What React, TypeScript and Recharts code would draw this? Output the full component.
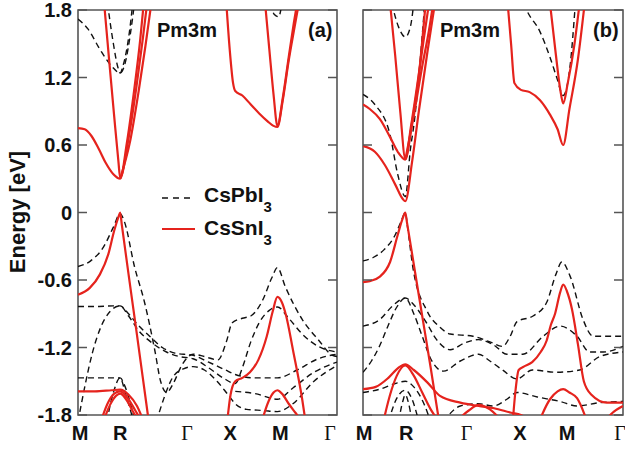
import React from 'react'
import { LineChart, Line, XAxis, YAxis, ReferenceArea } from 'recharts'

type Band = [number, number][]

// high-symmetry path M-R-G-X-M-G (k measured along the path)
const kTicks = [0, 0.5, 1.366, 1.866, 2.366, 3.073]
const kLabels = ['M', 'R', 'Γ', 'X', 'M', 'Γ']
const eTicks = [-1.8, -1.2, -0.6, 0, 0.6, 1.2, 1.8]

// panel (a) CsSnI3
const aSn: Band[] = [
  [[0, 0.75], [0.08, 0.74], [0.16, 0.68], [0.25, 0.56], [0.33, 0.44], [0.42, 0.34], [0.5, 0.3], [0.58, 0.62], [0.66, 1.05], [0.74, 1.55], [0.78, 1.86]],
  [[0.31, 1.86], [0.37, 1.35], [0.43, 0.85], [0.48, 0.45], [0.5, 0.31], [0.6, 0.66], [0.69, 1.1], [0.77, 1.55], [0.82, 1.86]],
  [[0.5, 0.3], [0.62, 0.64], [0.72, 1.08], [0.8, 1.48], [0.87, 1.86]],
  [[1.76, 1.86], [1.8, 1.45], [1.84, 1.15], [1.866, 1.08], [1.95, 1.04], [2.05, 0.96], [2.15, 0.88], [2.25, 0.81], [2.32, 0.77], [2.366, 0.76], [2.43, 1.0], [2.5, 1.35], [2.57, 1.65], [2.62, 1.86]],
  [[2.22, 1.86], [2.27, 1.45], [2.32, 1.05], [2.366, 0.77], [2.43, 1.02], [2.5, 1.38], [2.56, 1.68], [2.6, 1.86]],
  [[0, -0.73], [0.14, -0.67], [0.26, -0.55], [0.36, -0.37], [0.43, -0.16], [0.48, -0.04], [0.5, 0], [0.52, -0.11], [0.6, -0.55], [0.7, -1.09], [0.8, -1.64], [0.84, -1.86]],
  [[0, -1.59], [0.2, -1.59], [0.4, -1.58], [0.5, -1.575], [0.6, -1.62], [0.7, -1.72], [0.78, -1.86]],
  [[0.27, -1.86], [0.35, -1.7], [0.43, -1.61], [0.5, -1.59], [0.58, -1.64], [0.68, -1.76], [0.76, -1.86]],
  [[0.3, -1.86], [0.38, -1.71], [0.45, -1.63], [0.5, -1.61], [0.57, -1.66], [0.66, -1.78], [0.73, -1.86]],
  [[1.77, -1.86], [1.81, -1.62], [1.866, -1.5], [1.95, -1.47], [2.04, -1.42], [2.14, -1.31], [2.24, -1.1], [2.31, -0.88], [2.366, -0.75], [2.42, -0.8], [2.47, -0.92], [2.55, -1.22], [2.66, -1.66], [2.7, -1.86]],
  [[2.18, -1.86], [2.26, -1.68], [2.32, -1.6], [2.366, -1.58], [2.42, -1.61], [2.5, -1.7], [2.58, -1.78], [2.66, -1.86]],
]

// panel (a) CsPbI3
const aPb: Band[] = [
  [[0, 1.72], [0.12, 1.63], [0.26, 1.45], [0.4, 1.3], [0.5, 1.24], [0.56, 1.33], [0.62, 1.58], [0.67, 1.86]],
  [[0.35, 1.86], [0.42, 1.5], [0.47, 1.3], [0.5, 1.24], [0.54, 1.32], [0.6, 1.55], [0.65, 1.86]],
  [[2.28, 1.86], [2.33, 1.76], [2.38, 1.74], [2.42, 1.86]],
  [[0, -0.48], [0.15, -0.43], [0.3, -0.31], [0.42, -0.13], [0.5, -0.01], [0.55, -0.08], [0.67, -0.48], [0.79, -0.8], [0.91, -1.22], [0.98, -1.5], [1.05, -1.6], [1.13, -1.52], [1.23, -1.36], [1.366, -1.26], [1.5, -1.28], [1.66, -1.31], [1.76, -1.15], [1.83, -0.98], [1.95, -0.94], [2.05, -0.92], [2.19, -0.78], [2.3, -0.58], [2.366, -0.49], [2.46, -0.66], [2.66, -0.95], [2.85, -1.13], [3.02, -1.27], [3.073, -1.28]],
  [[0, -0.835], [0.25, -0.835], [0.42, -0.83], [0.5, -0.83], [0.6, -0.9], [0.7, -0.99], [0.85, -1.1], [1.0, -1.2], [1.15, -1.25], [1.366, -1.27], [1.55, -1.33], [1.75, -1.4], [1.866, -1.44], [2.1, -1.47], [2.366, -1.47], [2.6, -1.4], [2.85, -1.3], [3.073, -1.26]],
  [[0, -1.86], [0.08, -1.55], [0.17, -1.25], [0.27, -1.02], [0.38, -0.88], [0.5, -0.83], [0.6, -0.92], [0.72, -1.05], [0.88, -1.16], [1.05, -1.24], [1.2, -1.28], [1.366, -1.3], [1.55, -1.38], [1.72, -1.47], [1.866, -1.52], [1.95, -1.38], [2.05, -1.15], [2.15, -0.98], [2.27, -0.87], [2.366, -0.84], [2.5, -0.94], [2.66, -1.08], [2.85, -1.19], [3.073, -1.24]],
  [[0, -1.47], [0.2, -1.47], [0.4, -1.47], [0.5, -1.47], [0.56, -1.55], [0.63, -1.72], [0.68, -1.86]],
  [[0.34, -1.86], [0.42, -1.6], [0.5, -1.47], [0.56, -1.6], [0.66, -1.86]],
  [[0.93, -1.86], [1.02, -1.65], [1.12, -1.47], [1.25, -1.39], [1.366, -1.37], [1.5, -1.4], [1.65, -1.5], [1.78, -1.62], [1.866, -1.7], [2.0, -1.75], [2.2, -1.76], [2.366, -1.77], [2.55, -1.7], [2.8, -1.5], [3.073, -1.36]],
  [[1.866, -1.59], [2.1, -1.61], [2.366, -1.66], [2.55, -1.56], [2.8, -1.42], [3.073, -1.33]],
]

// panel (b) CsSnI3
const bSn: Band[] = [
  [[0, 0.96], [0.08, 0.92], [0.2, 0.83], [0.32, 0.67], [0.41, 0.54], [0.5, 0.47], [0.58, 0.8], [0.66, 1.22], [0.74, 1.86]],
  [[0.32, 1.86], [0.38, 1.4], [0.44, 0.9], [0.5, 0.48], [0.57, 0.78], [0.65, 1.18], [0.72, 1.55], [0.78, 1.86]],
  [[0.5, 0.47], [0.6, 0.86], [0.7, 1.3], [0.78, 1.62], [0.83, 1.86]],
  [[0, 0.59], [0.14, 0.54], [0.26, 0.42], [0.38, 0.25], [0.47, 0.12], [0.5, 0.1], [0.58, 0.45], [0.66, 0.9], [0.76, 1.42], [0.85, 1.86]],
  [[1.71, 1.86], [1.75, 1.5], [1.79, 1.15], [1.866, 1.09], [1.97, 1.07], [2.09, 1.0], [2.21, 0.87], [2.3, 0.74], [2.366, 0.6], [2.44, 0.92], [2.54, 1.36], [2.62, 1.86]],
  [[2.21, 1.86], [2.28, 1.4], [2.33, 1.1], [2.366, 0.97], [2.42, 1.15], [2.5, 1.5], [2.56, 1.86]],
  [[0, -0.62], [0.08, -0.61], [0.2, -0.57], [0.32, -0.44], [0.41, -0.2], [0.47, -0.05], [0.5, 0], [0.52, -0.09], [0.6, -0.46], [0.7, -0.92], [0.8, -1.38], [0.9, -1.86]],
  [[0, -1.57], [0.15, -1.55], [0.3, -1.47], [0.42, -1.38], [0.5, -1.35], [0.6, -1.4], [0.76, -1.51], [0.91, -1.63], [1.15, -1.69], [1.366, -1.72], [1.55, -1.74], [1.75, -1.78], [1.866, -1.8], [2.0, -1.86]],
  [[0.24, -1.86], [0.32, -1.62], [0.4, -1.45], [0.5, -1.36], [0.6, -1.45], [0.7, -1.6], [0.8, -1.75], [0.9, -1.86]],
  [[1.1, -1.86], [1.25, -1.76], [1.366, -1.71], [1.5, -1.75], [1.65, -1.86]],
  [[1.77, -1.86], [1.8, -1.6], [1.84, -1.4], [1.9, -1.37], [2.0, -1.33], [2.1, -1.24], [2.17, -1.14], [2.22, -1.0], [2.27, -0.9], [2.33, -0.71], [2.366, -0.64], [2.41, -0.7], [2.47, -0.86], [2.54, -1.17], [2.61, -1.5], [2.7, -1.62], [2.88, -1.69], [3.073, -1.69]],
  [[2.08, -1.86], [2.21, -1.66], [2.3, -1.59], [2.366, -1.57], [2.44, -1.6], [2.53, -1.65], [2.65, -1.86]],
  [[2.85, -1.86], [2.95, -1.78], [3.073, -1.72]],
]

// panel (b) CsPbI3
const bPb: Band[] = [
  [[0, 1.05], [0.14, 0.96], [0.32, 0.69], [0.41, 0.34], [0.5, 0.14], [0.56, 0.56], [0.61, 0.83], [0.67, 1.3], [0.73, 1.86]],
  [[0.34, 1.86], [0.42, 1.65], [0.5, 1.56], [0.56, 1.65], [0.6, 1.86]],
  [[1.9, 1.86], [1.94, 1.79], [2.09, 1.61], [2.21, 1.38], [2.29, 1.2], [2.366, 1.04], [2.45, 1.32], [2.51, 1.86]],
  [[0, -0.43], [0.12, -0.4], [0.25, -0.33], [0.38, -0.2], [0.45, -0.08], [0.5, 0], [0.53, -0.15], [0.59, -0.49], [0.76, -0.88], [0.91, -1.02], [1.03, -1.08], [1.3, -1.1], [1.5, -1.15], [1.65, -1.19], [1.74, -1.1], [1.82, -0.97], [2.01, -0.92], [2.17, -0.8], [2.28, -0.55], [2.35, -0.44], [2.45, -0.57], [2.6, -0.95], [2.72, -1.1], [2.9, -1.1], [3.073, -1.1]],
  [[0, -1.01], [0.2, -0.95], [0.35, -0.83], [0.5, -0.76], [0.6, -0.82], [0.75, -0.98], [0.87, -1.13], [1.03, -1.22], [1.2, -1.16], [1.366, -1.13], [1.55, -1.18], [1.7, -1.26], [1.89, -1.26], [2.13, -1.1], [2.33, -1.01], [2.53, -1.1], [2.68, -1.24], [2.84, -1.24], [3.073, -1.19]],
  [[0, -1.42], [0.1, -1.32], [0.2, -1.18], [0.3, -1.0], [0.4, -0.84], [0.5, -0.76], [0.6, -0.9], [0.7, -1.1], [0.8, -1.3], [0.95, -1.41], [1.15, -1.32], [1.366, -1.26], [1.5, -1.32], [1.65, -1.4], [1.82, -1.48], [2.0, -1.4], [2.29, -1.42], [2.56, -1.4], [2.8, -1.28], [3.073, -1.24]],
  [[0, -1.6], [0.2, -1.57], [0.38, -1.52], [0.5, -1.5], [0.6, -1.55], [0.72, -1.7], [0.8, -1.86]],
  [[0.3, -1.86], [0.4, -1.65], [0.5, -1.58], [0.58, -1.66], [0.66, -1.86]],
  [[0.42, -1.86], [0.47, -1.68], [0.5, -1.62], [0.54, -1.7], [0.58, -1.86]],
  [[0.95, -1.86], [1.15, -1.72], [1.366, -1.7], [1.54, -1.72], [1.7, -1.66], [1.82, -1.6], [2.06, -1.64], [2.33, -1.68], [2.53, -1.72], [2.8, -1.69], [3.073, -1.68]],
]

// label nudges so the letters sit where the original put them
const aLabelShift = [2, 0, -6, -5, 3, -7]
const bLabelShift = [1, 1, -12, -1, 4, -3]

const FRAME = '#555'
const RED = '#e5231d'
const INK = '#111'
const SANS = '"Liberation Sans", Arial, Helvetica, sans-serif'
const SERIF = '"Liberation Serif", "Times New Roman", serif'

const toPoints = (band: Band) => band.map(([k, e]) => ({ k, e }))

type PanelProps = {
  left: number
  width: number
  marginLeft: number
  marginRight: number
  yAxisWidth: number
  showLabels: boolean
  pb: Band[]
  sn: Band[]
  shifts: number[]
}

function BandPanel({ left, width, marginLeft, marginRight, yAxisWidth, showLabels, pb, sn, shifts }: PanelProps) {
  const plotLeft = marginLeft + yAxisWidth
  const plotRight = width - marginRight

  const yTick = ({ y, payload }: any) => (
    <g>
      <line x1={plotLeft} x2={plotLeft + 9} y1={y} y2={y} stroke={FRAME} strokeWidth={1.5} />
      <line x1={plotRight - 9} x2={plotRight} y1={y} y2={y} stroke={FRAME} strokeWidth={1.5} />
      {showLabels && (
        <text x={plotLeft - 6} y={y} dy={7} textAnchor="end" fontFamily={SANS} fontWeight="bold" fontSize={20} fill={INK}>
          {payload.value === 0 ? '0' : Number(payload.value).toFixed(1)}
        </text>
      )}
    </g>
  )

  const xTick = ({ x, y, payload }: any) => {
    const i = kTicks.indexOf(payload.value)
    const lab = kLabels[i]
    const greek = lab === 'Γ'
    return (
      <text
        x={x + (shifts[i] || 0)}
        y={y}
        dy={17}
        textAnchor="middle"
        fontFamily={greek ? SERIF : SANS}
        fontWeight={greek ? 'normal' : 'bold'}
        fontSize={20}
        fill={INK}
      >
        {lab}
      </text>
    )
  }

  return (
    <div style={{ position: 'absolute', left, top: 0 }}>
      <LineChart width={width} height={450} margin={{ top: 10, right: marginRight, bottom: 5, left: marginLeft }}>
        <XAxis
          type="number"
          dataKey="k"
          domain={[0, 3.073]}
          ticks={kTicks}
          interval={0}
          allowDataOverflow
          height={30}
          axisLine={false}
          tickLine={false}
          tick={xTick}
        />
        <YAxis
          type="number"
          domain={[-1.8, 1.8]}
          ticks={eTicks}
          interval={0}
          allowDataOverflow
          width={yAxisWidth}
          axisLine={false}
          tickLine={false}
          tick={yTick}
        />
        {pb.map((b, i) => (
          <Line
            key={'pb' + i}
            data={toPoints(b)}
            dataKey="e"
            type="monotone"
            stroke={INK}
            strokeWidth={1.4}
            strokeDasharray="6 4"
            dot={false}
            activeDot={false}
            isAnimationActive={false}
          />
        ))}
        {sn.map((b, i) => (
          <Line
            key={'sn' + i}
            data={toPoints(b)}
            dataKey="e"
            type="monotone"
            stroke={RED}
            strokeWidth={2.2}
            dot={false}
            activeDot={false}
            isAnimationActive={false}
          />
        ))}
        <ReferenceArea x1={0} x2={3.073} y1={-1.8} y2={1.8} fill="none" stroke={FRAME} strokeWidth={1.6} />
      </LineChart>
    </div>
  )
}

export default function App() {
  return (
    <div style={{ position: 'absolute', left: 0, top: 0, width: 625, height: 450, background: '#fff' }}>
      <BandPanel left={0} width={345} marginLeft={8} marginRight={8} yAxisWidth={70} showLabels pb={aPb} sn={aSn} shifts={aLabelShift} />
      <BandPanel left={345} width={280} marginLeft={0} marginRight={2} yAxisWidth={18} showLabels={false} pb={bPb} sn={bSn} shifts={bLabelShift} />
      <svg width={625} height={450} style={{ position: 'absolute', left: 0, top: 0, pointerEvents: 'none' }}>
        <text transform="translate(25,212) rotate(-90)" textAnchor="middle" fontFamily={SANS} fontWeight="bold" fontSize={22} fill={INK}>
          Energy [eV]
        </text>
        <text x={157} y={37} fontFamily={SANS} fontWeight="bold" fontSize={20} fill={INK}>Pm3m</text>
        <text x={308} y={37} fontFamily={SANS} fontWeight="bold" fontSize={20} fill={INK}>(a)</text>
        <text x={440} y={37} fontFamily={SANS} fontWeight="bold" fontSize={20} fill={INK}>Pm3m</text>
        <text x={593} y={37} fontFamily={SANS} fontWeight="bold" fontSize={20} fill={INK}>(b)</text>
        <line x1={162} x2={193} y1={198} y2={198} stroke={INK} strokeWidth={1.4} strokeDasharray="6 5" />
        <text x={204} y={202} fontFamily={SANS} fontWeight="bold" fontSize={21} fill={INK}>
          CsPbI<tspan dy={10} fontSize={15}>3</tspan>
        </text>
        <line x1={162} x2={195} y1={229} y2={229} stroke={RED} strokeWidth={2.2} />
        <text x={204} y={235} fontFamily={SANS} fontWeight="bold" fontSize={21} fill={INK}>
          CsSnI<tspan dy={10} fontSize={15}>3</tspan>
        </text>
      </svg>
    </div>
  )
}
